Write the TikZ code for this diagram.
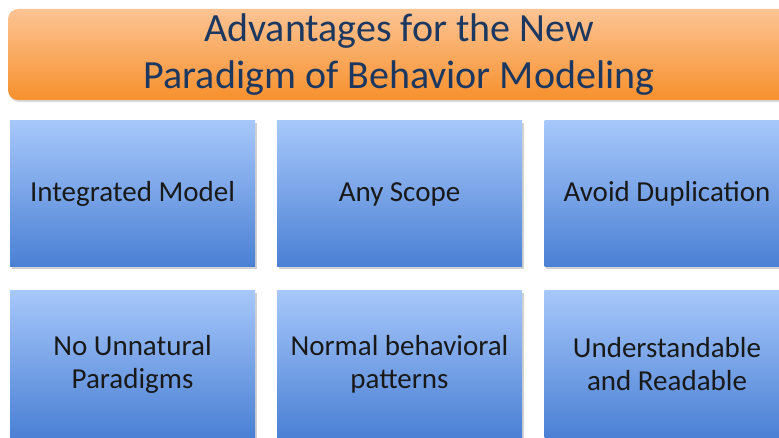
\documentclass[tikz,border=0pt]{standalone}
\usepackage{fontspec}
\setmainfont{Carlito}
\usetikzlibrary{shadows}

\definecolor{titleblue}{RGB}{28,56,96}
\definecolor{bannertop}{RGB}{252,196,148}
\definecolor{bannerbot}{RGB}{247,144,44}
\definecolor{tiletop}{RGB}{166,199,250}
\definecolor{tilebot}{RGB}{74,128,212}

\tikzset{
  banner/.style={rectangle, rounded corners=10pt, minimum width=782pt, minimum height=91pt,
    top color=bannertop, bottom color=bannerbot, text=titleblue, align=center,
    font=\fontsize{40}{47}\selectfont,
    drop shadow={opacity=0.3, shadow xshift=1pt, shadow yshift=-2pt}},
  tile/.style={rectangle, minimum width=245pt, minimum height=146pt,
    top color=tiletop, bottom color=tilebot, text=black!90, align=center,
    font=\fontsize{29}{33}\selectfont,
    drop shadow={opacity=0.35, shadow xshift=1.5pt, shadow yshift=-2pt}}
}

\begin{document}
\begin{tikzpicture}[x=1pt,y=-1pt]
  \useasboundingbox (0,0) rectangle (779,438);
  \clip (0,0) rectangle (779,438);
  \fill[white] (0,0) rectangle (779,438);

  % heading
  \node[banner] (head) at (399,54.5) {Advantages for the New\\Paradigm of Behavior Modeling};

  % first row
  \node[tile] (integ) at (132.5,194) {Integrated Model};
  \node[tile] (scope) at (399.5,194) {Any Scope};
  \node[tile] (dupl) at (667,194) {Avoid Duplication};

  % second row
  \node[tile] (unnat) at (132.5,364) {No Unnatural\\Paradigms};
  \node[tile] (normal) at (399.5,364) {Normal behavioral\\patterns};
  \node[tile] (read) at (667,364) {Understandable\\and Readable};
\end{tikzpicture}
\end{document}
